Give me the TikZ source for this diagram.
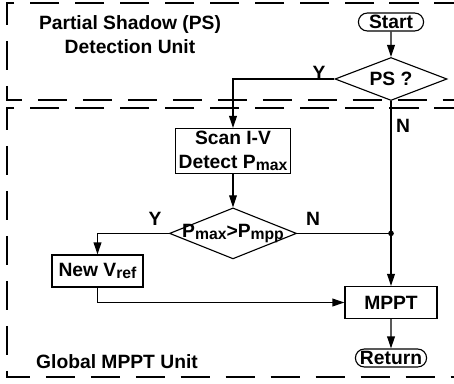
\documentclass[tikz,border=0pt]{standalone}
\usepackage{fontspec}
\setmainfont{Liberation Sans}
\usepackage{tikz}
\usetikzlibrary{arrows.meta, positioning, shapes.geometric, shapes.misc}

% lowered, slightly smaller index text (P_max, V_ref, ...)
\newcommand{\subtxt}[1]{\raisebox{-0.18ex}{\fontsize{11.2}{12}\selectfont #1}}

\begin{document}
\begin{tikzpicture}[
    font=\fontsize{13.7}{17}\selectfont\bfseries,
    >={Triangle[length=8.5pt, width=5.5pt]},
    terminal/.style={draw, rounded rectangle, line width=0.8pt,
                     inner sep=1pt, minimum height=4.5mm},
    process/.style={draw, rectangle, line width=0.8pt, align=center,
                    inner sep=2pt},
    decision/.style={draw, diamond, line width=0.8pt, inner sep=0pt,
                     aspect=2.5},
    arr/.style={->, line width=0.8pt},
    link/.style={line width=0.8pt},
    unit/.style={line width=1.3pt, dash pattern=on 21pt off 11pt},
    tag/.style={inner sep=0pt}
]
\useasboundingbox (0,0) rectangle (11.35,9.575);

% --- The two dashed unit frames (open to the right).
\draw[unit] (11.6,9.5)   -| (0.175,7.075) -- (11.6,7.075);
\draw[unit] (11.6,6.875) -| (0.175,0.15)  -- (11.6,0.15);

\node[tag, align=center] (psunit) at (3.25,8.7)
    {Partial Shadow (PS)\\Detection Unit};
\node[tag] (gunit) at (2.925,0.525) {Global MPPT Unit};

% --- Flow chart nodes.
\node[terminal, minimum width=17mm]  (start) at (9.775,9.025) {Start};
\node[decision, minimum width=28mm, minimum height=10.75mm]
                                     (ps)    at (9.775,7.6)   {\makebox[0pt]{PS ?}};
\node[process, minimum width=27.5mm, minimum height=11.25mm]
                                     (scan)  at (5.825,5.8)
    {Scan I-V\\Detect P\subtxt{max}};
\node[decision, minimum width=31.75mm, minimum height=12.75mm]
                                     (cmp)   at (5.825,3.74)
    {\makebox[0pt]{P\subtxt{max}>P\subtxt{mpp}}};
\node[process, minimum width=22.75mm, minimum height=8mm]
                                     (vref)  at (2.4375,2.8)  {New V\subtxt{ref}};
\node[process, minimum width=23mm, minimum height=8mm]
                                     (mppt)  at (9.775,2.0125) {MPPT};
\node[terminal, minimum width=18.5mm] (ret)  at (9.775,0.625) {Return};

\coordinate (join) at (ps.south |- cmp.east);

% --- Branch labels.
\node[tag] (psY)  at (7.975,7.75)  {Y};
\node[tag] (psN)  at (10.075,6.425) {N};
\node[tag] (cmpY) at (3.875,4.1)   {Y};
\node[tag] (cmpN) at (7.825,4.1)   {N};

% --- Connectors.
\draw[arr]  (start)      -- (ps);
\draw[arr]  (ps.west)    -| (scan.north);
\draw[arr]  (ps.south)   -- (mppt.north);
\draw[arr]  (scan)       -- (cmp);
\draw[arr]  (cmp.west)   -| (vref.north);
\draw[link] (cmp.east)   -- (join);
\fill       (join) circle (2pt);
\draw[arr]  (vref.south) |- (mppt.west);
\draw[arr]  (mppt)       -- (ret);

\end{tikzpicture}
\end{document}
